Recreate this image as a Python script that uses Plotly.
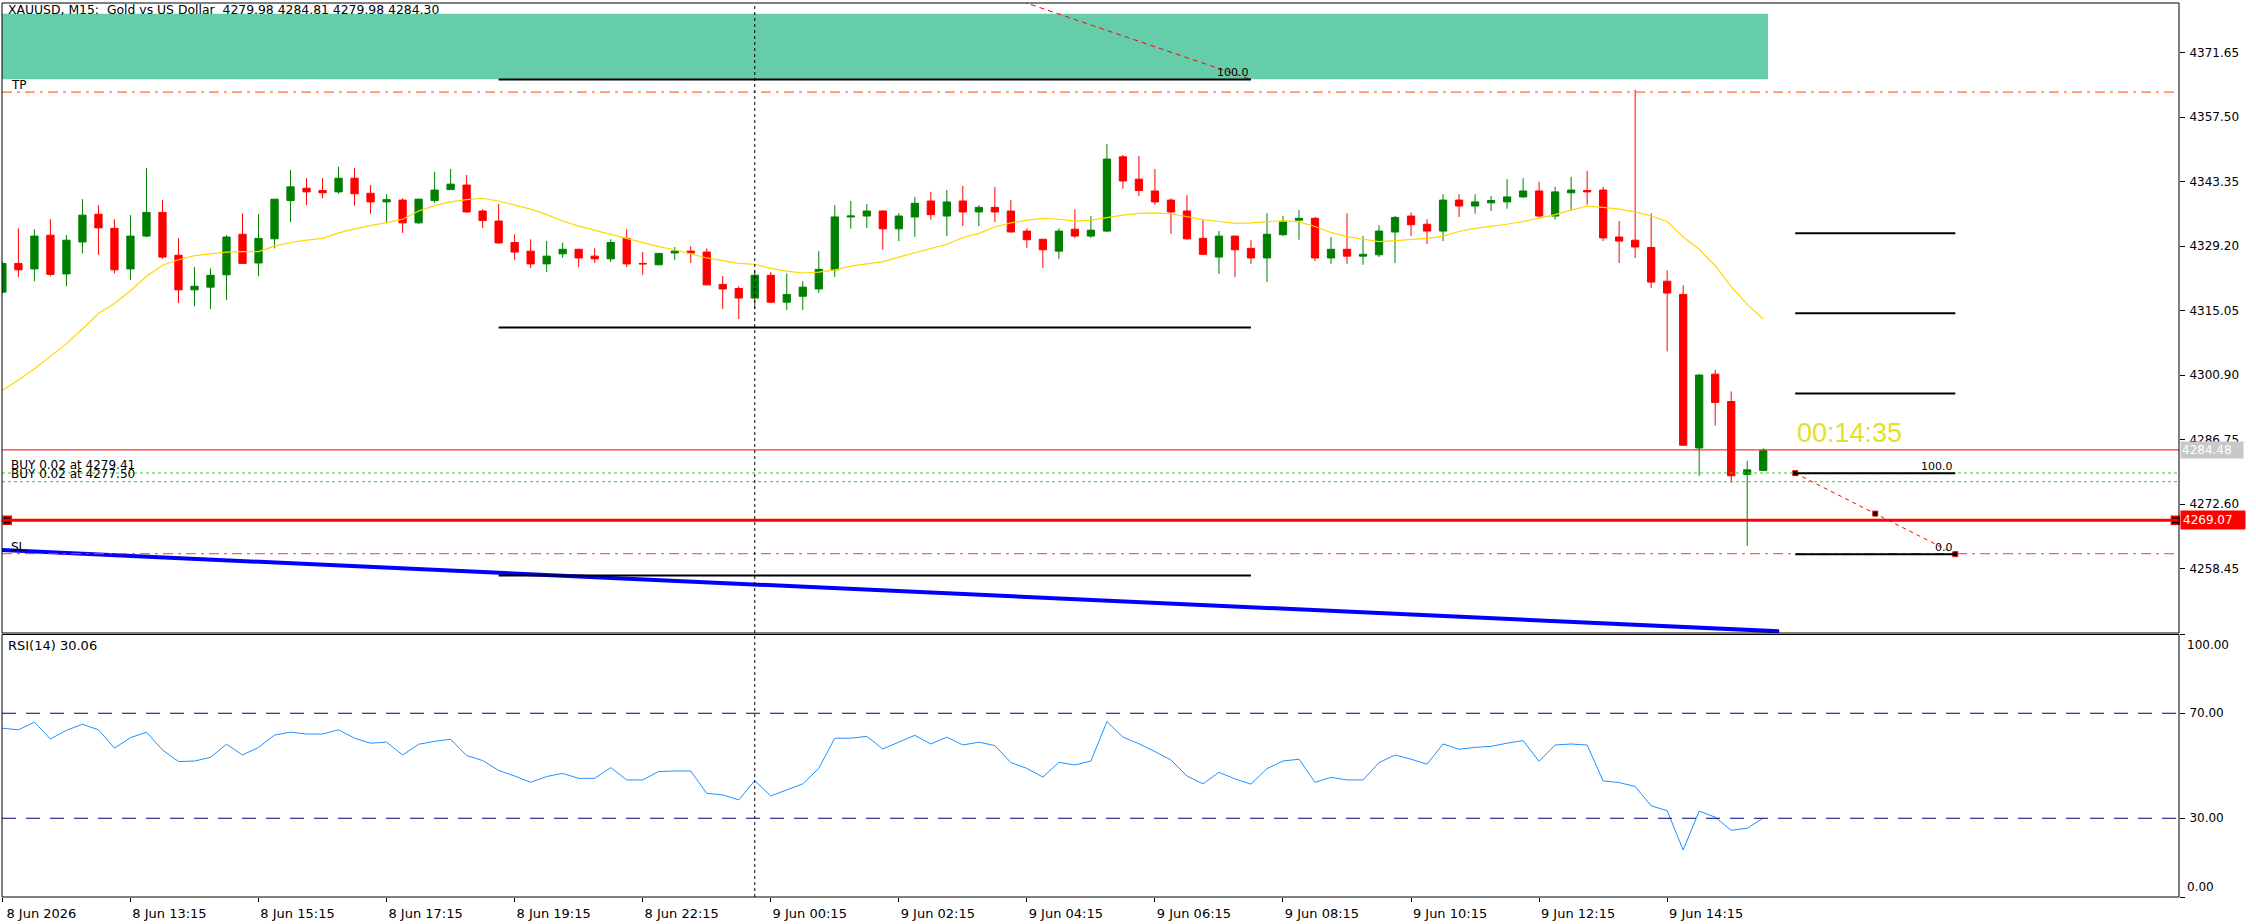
import plotly.graph_objects as go

# XAUUSD M15 bars, bar 0 is the half hidden bar on the left edge
opens = [4319.1, 4325.4, 4324.2, 4331.6, 4323.1, 4330.1, 4336.2, 4333.1, 4324.2, 4331.4,
         4336.6, 4327.2, 4319.6, 4320.2, 4322.9, 4331.8, 4325.5, 4330.8, 4339.2, 4341.9,
         4341.4, 4341.1, 4344.1, 4340.8, 4338.9, 4339.3, 4334.3, 4339.2, 4341.6, 4342.6,
         4336.9, 4334.7, 4330.0, 4328.1, 4325.3, 4327.5, 4328.5, 4327.0, 4326.4, 4330.9,
         4325.4, 4325.1, 4327.7, 4328.1, 4327.9, 4320.8, 4319.9, 4317.8, 4322.8, 4316.9,
         4318.2, 4319.8, 4324.0, 4335.6, 4335.8, 4336.9, 4333.0, 4335.6, 4339.1, 4335.8,
         4339.1, 4336.7, 4337.7, 4336.9, 4332.5, 4330.7, 4328.1, 4332.9, 4331.4, 4332.5,
         4348.8, 4343.9, 4341.3, 4339.3, 4336.9, 4330.9, 4326.8, 4331.4, 4328.7, 4326.6,
         4331.7, 4334.9, 4335.3, 4326.6, 4328.5, 4327.0, 4327.3, 4332.3, 4335.8, 4334.0,
         4332.5, 4339.3, 4338.0, 4338.7, 4338.9, 4340.0, 4341.3, 4335.8, 4340.9, 4341.4,
         4341.5, 4331.2, 4330.5, 4328.9, 4321.5, 4318.6, 4284.9, 4301.1, 4295.1, 4279.1,
         4279.98]
highs = [4325.8, 4333.1, 4332.9, 4335.1, 4331.6, 4339.5, 4338.2, 4335.1, 4336.0, 4346.3,
         4339.3, 4330.9, 4324.6, 4324.3, 4331.6, 4336.4, 4336.2, 4339.5, 4345.9, 4344.1,
         4344.1, 4346.6, 4346.3, 4342.6, 4340.6, 4339.7, 4339.6, 4345.5, 4346.1, 4344.8,
         4337.3, 4338.4, 4331.8, 4330.7, 4330.3, 4330.0, 4328.6, 4328.7, 4330.7, 4332.9,
         4327.9, 4327.7, 4329.0, 4329.2, 4328.7, 4322.6, 4320.4, 4323.9, 4323.5, 4323.2,
         4321.5, 4328.1, 4338.2, 4339.1, 4338.4, 4337.1, 4336.4, 4340.0, 4341.1, 4341.5,
         4342.4, 4338.2, 4342.2, 4339.3, 4333.1, 4330.8, 4333.1, 4337.3, 4335.8, 4351.6,
         4349.2, 4349.0, 4346.1, 4339.7, 4340.4, 4334.9, 4332.5, 4331.5, 4330.5, 4336.4,
         4335.8, 4337.1, 4335.6, 4331.2, 4336.4, 4331.4, 4333.8, 4335.8, 4336.6, 4335.1,
         4340.6, 4340.6, 4340.6, 4340.2, 4343.9, 4344.1, 4343.3, 4342.2, 4344.4, 4345.7,
         4342.2, 4334.7, 4363.5, 4336.4, 4323.9, 4320.6, 4301.1, 4302.1, 4297.3, 4282.1,
         4284.81]
lows = [4318.8, 4322.4, 4321.5, 4322.6, 4320.4, 4327.6, 4327.3, 4323.2, 4321.8, 4331.1,
        4326.4, 4316.7, 4316.0, 4315.4, 4317.4, 4325.3, 4322.6, 4328.7, 4334.5, 4338.2,
        4339.7, 4340.7, 4338.1, 4336.3, 4334.2, 4332.1, 4334.1, 4338.7, 4341.5, 4336.5,
        4333.2, 4329.7, 4326.2, 4324.4, 4323.5, 4326.6, 4324.6, 4325.5, 4325.7, 4324.6,
        4322.9, 4325.0, 4326.2, 4325.5, 4320.6, 4315.4, 4313.2, 4315.4, 4316.7, 4315.2,
        4315.2, 4318.9, 4322.4, 4333.0, 4333.2, 4328.4, 4330.3, 4331.2, 4335.0, 4331.4,
        4333.6, 4333.6, 4334.5, 4332.2, 4328.8, 4324.4, 4326.4, 4331.0, 4331.0, 4332.3,
        4341.8, 4340.2, 4338.3, 4331.9, 4330.6, 4327.3, 4323.1, 4322.4, 4325.3, 4321.3,
        4331.4, 4330.6, 4325.9, 4325.3, 4325.3, 4325.1, 4326.8, 4325.5, 4331.4, 4329.7,
        4330.3, 4335.6, 4336.3, 4336.9, 4337.4, 4339.8, 4335.4, 4335.0, 4336.9, 4338.3,
        4330.3, 4325.5, 4326.6, 4320.0, 4306.1, 4285.4, 4278.8, 4289.8, 4277.3, 4263.4,
        4279.98]
closes = [4325.4, 4324.0, 4331.4, 4323.0, 4330.5, 4336.0, 4333.2, 4324.0, 4331.4, 4336.6,
          4326.8, 4319.6, 4320.4, 4322.8, 4331.2, 4325.4, 4330.9, 4339.5, 4342.2, 4341.1,
          4340.9, 4344.1, 4340.7, 4338.9, 4339.4, 4334.3, 4339.5, 4341.5, 4342.8, 4336.7,
          4334.8, 4329.9, 4327.9, 4325.3, 4327.0, 4328.5, 4326.6, 4326.4, 4330.0, 4325.3,
          4325.3, 4327.6, 4328.1, 4327.7, 4320.7, 4319.8, 4317.8, 4322.8, 4316.9, 4318.6,
          4320.2, 4324.1, 4335.6, 4335.8, 4336.9, 4333.0, 4335.8, 4338.6, 4336.1, 4338.9,
          4336.7, 4337.7, 4336.7, 4332.3, 4330.6, 4328.4, 4332.5, 4331.4, 4332.7, 4348.3,
          4343.5, 4341.4, 4338.9, 4336.7, 4330.8, 4327.4, 4331.4, 4328.4, 4326.6, 4331.8,
          4334.5, 4335.3, 4326.6, 4328.5, 4327.0, 4327.4, 4332.5, 4335.5, 4333.9, 4332.5,
          4339.3, 4338.0, 4338.9, 4339.2, 4340.0, 4341.3, 4335.8, 4341.1, 4341.5, 4341.1,
          4331.0, 4330.3, 4329.0, 4321.3, 4318.9, 4285.5, 4300.9, 4294.9, 4278.8, 4280.1,
          4284.30]

# yellow moving average, one value per bar
ma_values = [4297.5, 4299.8, 4302.3, 4305.0, 4307.8, 4311.0, 4314.4, 4316.6, 4319.4, 4322.6,
             4325.0, 4326.2, 4327.1, 4327.5, 4327.9, 4328.0, 4328.0, 4329.2, 4330.0, 4330.5,
             4330.9, 4332.1, 4333.0, 4333.7, 4334.4, 4335.1, 4336.9, 4338.1, 4338.9, 4339.4,
             4339.7, 4339.1, 4338.2, 4337.3, 4336.1, 4334.7, 4333.6, 4332.7, 4331.8, 4330.9,
             4330.0, 4329.1, 4328.4, 4327.5, 4326.6, 4326.0, 4325.4, 4325.2, 4324.3, 4323.7,
             4323.3, 4323.5, 4324.0, 4324.8, 4325.3, 4325.8, 4326.8, 4327.7, 4328.7, 4329.6,
             4331.1, 4332.0, 4333.4, 4334.3, 4334.9, 4335.3, 4335.1, 4334.7, 4334.9, 4335.5,
             4336.0, 4336.4, 4336.5, 4336.3, 4335.6, 4335.0, 4334.6, 4334.2, 4334.3, 4334.6,
             4334.8, 4334.5, 4333.5, 4332.2, 4331.3, 4330.7, 4330.2, 4330.4, 4330.6, 4330.9,
             4331.4, 4332.4, 4333.1, 4333.5, 4334.0, 4334.6, 4335.3, 4336.1, 4337.1, 4338.0,
             4337.7, 4337.3, 4336.7, 4335.8, 4334.6, 4331.2, 4328.5, 4324.9, 4320.3, 4316.4,
             4313.2]

# RSI(14), one value per bar
rsi_values = [64.3, 63.7, 66.6, 60.2, 63.5, 65.8, 63.7, 56.7, 60.7, 62.8,
              56.0, 51.6, 51.8, 53.2, 58.2, 54.1, 57.0, 61.7, 62.8, 62.1,
              62.1, 63.7, 60.5, 58.6, 59.0, 54.1, 58.2, 59.3, 60.1, 53.9,
              52.0, 48.2, 46.1, 43.7, 45.9, 47.1, 45.2, 45.2, 49.3, 44.6,
              44.6, 47.8, 48.0, 48.0, 39.5, 38.9, 37.0, 44.3, 38.5, 40.8,
              43.1, 49.0, 60.5, 60.5, 61.2, 56.4, 59.1, 61.6, 58.3, 60.9,
              57.9, 59.0, 57.7, 51.2, 49.0, 45.7, 51.3, 50.3, 51.8, 66.8,
              60.9, 58.4, 55.4, 52.2, 46.1, 43.1, 47.5, 45.0, 43.0, 48.9,
              51.8, 52.5, 43.7, 45.6, 44.6, 44.6, 51.2, 54.1, 52.5, 50.6,
              58.3, 56.3, 57.0, 57.4, 58.6, 59.6, 51.7, 57.9, 58.3, 57.9,
              44.2, 43.6, 42.1, 34.7, 32.9, 17.9, 32.7, 30.4, 25.4, 26.2,
              30.06]

bars = list(range(len(opens)))

time_ticks = [0, 8, 16, 24, 32, 40, 48, 56, 64, 72, 80, 88, 96, 104]
time_labels = ["8 Jun 2026", "8 Jun 13:15", "8 Jun 15:15", "8 Jun 17:15", "8 Jun 19:15",
               "8 Jun 22:15", "9 Jun 00:15", "9 Jun 02:15", "9 Jun 04:15", "9 Jun 06:15",
               "9 Jun 08:15", "9 Jun 10:15", "9 Jun 12:15", "9 Jun 14:15"]
price_ticks = [4371.65, 4357.50, 4343.35, 4329.20, 4315.05, 4300.90, 4286.75, 4272.60, 4258.45]
rsi_ticks = [100, 70, 30, 0]
rsi_tick_text = ["", "70.00", "30.00", ""]
rsi_levels = [70, 30]

# chart objects
tp_price = 4363.0
sl_price = 4261.7
buy_prices = [4279.41, 4277.50]
hline_price = 4269.07
bid_price = 4284.48
zone_prices = [4365.8, 4380.2]
zone_bars = [-5, 110.3]
vline_bar = 47
trend_bars = [-1, 111]
trend_prices = [4262.66, 4244.66]
fib1_bars = [31.0, 78.0]
fib1_levels = [4365.77, 4311.35, 4256.93]
fib1_diag_bars = [60.0, 78.0]
fib1_diag_prices = [4387.3, 4365.77]
fib2_bars = [112.0, 122.0]
fib2_levels = [4279.37, 4261.6, 4296.85, 4314.45, 4332.05]
fib2_diag_bars = [112.0, 117.0, 122.0]
fib2_diag_prices = [4279.37, 4270.5, 4261.6]
countdown = "00:14:35"

FONT = "DejaVu Sans"
GREEN = "#008000"
RED = "#FF0000"

fig = go.Figure()

fig.add_trace(go.Candlestick(
    x=bars, open=opens, high=highs, low=lows, close=closes,
    increasing=dict(line=dict(color=GREEN, width=1), fillcolor=GREEN),
    decreasing=dict(line=dict(color=RED, width=1), fillcolor=RED),
    whiskerwidth=0, showlegend=False, xaxis="x", yaxis="y",
))
fig.add_trace(go.Scatter(x=bars, y=ma_values, mode="lines",
                         line=dict(color="#FFD700", width=1.2), showlegend=False))
fig.add_trace(go.Scatter(x=trend_bars, y=trend_prices, mode="lines",
                         line=dict(color="#0000FF", width=4), showlegend=False))
fig.add_trace(go.Scatter(x=fib1_diag_bars, y=fib1_diag_prices, mode="lines",
                         line=dict(color=RED, width=1, dash="5px,4px"), showlegend=False))
fig.add_trace(go.Scatter(x=fib2_diag_bars, y=fib2_diag_prices, mode="lines+markers",
                         line=dict(color=RED, width=1, dash="4px,4px"),
                         marker=dict(symbol="square", size=5, color="black",
                                     line=dict(color=RED, width=1)),
                         showlegend=False, cliponaxis=False))
fig.add_trace(go.Scatter(x=[0.3, 135.75], y=[hline_price, hline_price], mode="markers",
                         marker=dict(symbol="square", size=8, color="black",
                                     line=dict(color=RED, width=1.5)),
                         showlegend=False, cliponaxis=False))
fig.add_trace(go.Scatter(x=bars, y=rsi_values, mode="lines", xaxis="x", yaxis="y2",
                         line=dict(color="#1E90FF", width=1), showlegend=False))

shapes = []
# green zone at the top
shapes.append(dict(type="rect", xref="x", yref="y", x0=zone_bars[0], x1=zone_bars[1],
                   y0=zone_prices[0], y1=zone_prices[1], fillcolor="#66CDAA",
                   line=dict(width=0), layer="below"))
# TP / SL
for p in [tp_price, sl_price]:
    shapes.append(dict(type="line", xref="x domain", yref="y", x0=0, x1=1, y0=p, y1=p,
                       line=dict(color="#FF4500", width=1, dash="10px,5px,3px,5px")))
# open positions
for p in buy_prices:
    shapes.append(dict(type="line", xref="x domain", yref="y", x0=0, x1=1, y0=p, y1=p,
                       line=dict(color="#32CD32", width=1, dash="3px,3px")))
# bid line and horizontal line
shapes.append(dict(type="line", xref="x domain", yref="y", x0=0, x1=1, y0=bid_price,
                   y1=bid_price, line=dict(color=RED, width=1)))
shapes.append(dict(type="line", xref="x domain", yref="y", x0=0, x1=1, y0=hline_price,
                   y1=hline_price, line=dict(color=RED, width=3)))
# fibonacci levels
for p in fib1_levels:
    shapes.append(dict(type="line", xref="x", yref="y", x0=fib1_bars[0], x1=fib1_bars[1],
                       y0=p, y1=p, line=dict(color="black", width=2)))
for p in fib2_levels:
    shapes.append(dict(type="line", xref="x", yref="y", x0=fib2_bars[0], x1=fib2_bars[1],
                       y0=p, y1=p, line=dict(color="black", width=2)))
# vertical line through both panes
shapes.append(dict(type="line", xref="x", yref="paper", x0=vline_bar, x1=vline_bar, y0=0, y1=1,
                   line=dict(color="black", width=1, dash="3px,3px")))
# RSI levels
for lv in rsi_levels:
    shapes.append(dict(type="line", xref="x domain", yref="y2", x0=0, x1=1, y0=lv, y1=lv,
                       line=dict(color="#000080", width=1, dash="14px,10px")))
# pane frames
for yr in ["y domain", "y2 domain"]:
    shapes.append(dict(type="rect", xref="x domain", yref=yr, x0=0, x1=1, y0=0, y1=1,
                       line=dict(color="black", width=1)))

small = dict(family=FONT, size=12, color="black")
label_font = dict(family=FONT, size=12, color="black")
annotations = [
    dict(text="XAUUSD, M15:  Gold vs US Dollar  %.2f %.2f %.2f %.2f"
         % (opens[-1], highs[-1], lows[-1], closes[-1]),
         xref="paper", yref="paper", x=0.002, y=1, xanchor="left", yanchor="top",
         showarrow=False, font=dict(family=FONT, size=12.4, color="black"), yshift=3),
    dict(text="TP", xref="paper", yref="y", x=0.003, y=tp_price, xanchor="left",
         yanchor="bottom", showarrow=False, font=label_font, yshift=-2),
    dict(text="SL", xref="paper", yref="y", x=0.003, y=sl_price, xanchor="left",
         yanchor="bottom", showarrow=False, font=label_font, yshift=-2),
    dict(text="RSI(14) %.2f" % rsi_values[-1], xref="paper", yref="y2", x=0.002, y=100,
         xanchor="left", yanchor="top", showarrow=False,
         font=dict(family=FONT, size=13, color="black"), yshift=-1),
    dict(text=countdown, xref="x", yref="y", x=fib2_bars[0], y=4288.2, xanchor="left",
         yanchor="middle", showarrow=False,
         font=dict(family="Liberation Sans", size=27, color="#E3E02B")),
    dict(text="100.0", xref="x", yref="y", x=fib1_bars[1], y=fib1_levels[0], xanchor="right",
         yanchor="bottom", showarrow=False, font=dict(family=FONT, size=11, color="black"),
         yshift=-2),
    dict(text="100.0", xref="x", yref="y", x=fib2_bars[1], y=fib2_levels[0], xanchor="right",
         yanchor="bottom", showarrow=False, font=dict(family=FONT, size=11, color="black"),
         yshift=-2),
    dict(text="0.0", xref="x", yref="y", x=fib2_bars[1], y=fib2_levels[1], xanchor="right",
         yanchor="bottom", showarrow=False, font=dict(family=FONT, size=11, color="black"),
         yshift=-2),
    dict(text="%.2f" % bid_price, xref="paper", yref="y", x=1, y=bid_price, xanchor="left",
         yanchor="middle", showarrow=False, bgcolor="#C8C8C8", width=60, align="left",
         font=dict(family=FONT, size=12, color="white"), xshift=1, borderpad=1),
    dict(text="%.2f" % hline_price, xref="paper", yref="y", x=1, y=hline_price,
         xanchor="left", yanchor="middle", showarrow=False, bgcolor=RED, width=60,
         align="left", font=dict(family=FONT, size=12, color="white"), xshift=1,
         borderpad=2),
    # the RSI pane's end labels sit inside the pane, as the terminal draws them
    dict(text="%.2f" % rsi_ticks[0], xref="paper", yref="y2", x=1, y=rsi_ticks[0],
         xanchor="left", yanchor="top", showarrow=False, font=small, xshift=6, yshift=-1),
    dict(text="%.2f" % rsi_ticks[-1], xref="paper", yref="y2", x=1, y=rsi_ticks[-1],
         xanchor="left", yanchor="bottom", showarrow=False, font=small, xshift=6, yshift=1),
]
for i, p in enumerate(buy_prices):
    annotations.append(dict(text="BUY 0.02 at %.2f" % p, xref="paper", yref="y", x=0.003,
                            y=p, xanchor="left", yanchor="bottom", showarrow=False,
                            font=label_font, yshift=-1))

fig.update_layout(
    width=2256, height=924,
    margin=dict(l=2, r=77, t=3, b=27),
    paper_bgcolor="white", plot_bgcolor="white",
    hovermode=False, showlegend=False, boxgap=0.35,
    shapes=shapes, annotations=annotations,
    xaxis=dict(range=[-0.025, 135.975], anchor="y2", tickvals=time_ticks, ticktext=time_labels,
               ticks="outside", ticklen=4, tickcolor="black", showgrid=False, zeroline=False,
               showline=False, tickfont=dict(family=FONT, size=13, color="black"),
               ticklabelshift=39, rangeslider=dict(visible=False)),
    yaxis=dict(domain=[0.2953, 1], range=[4244.3, 4382.55], side="right", anchor="x",
               tickvals=price_ticks, tickformat=".2f", ticks="outside", ticklen=5,
               tickcolor="black", showgrid=False, zeroline=False, showline=False,
               tickfont=small, ticklabelstandoff=2),
    yaxis2=dict(domain=[0, 0.2936], range=[0, 100], side="right", anchor="x",
                tickvals=rsi_ticks, ticktext=rsi_tick_text, ticks="outside", ticklen=5,
                tickcolor="black", showgrid=False, zeroline=False, showline=False,
                tickfont=small, ticklabelstandoff=2),
)

# the page has a default body margin; drop it so the figure sits at the window corner
fig.write_html("out.html", config={"displayModeBar": False},
               post_script="document.body.style.margin='0';"
                           "document.body.style.overflow='hidden';")
